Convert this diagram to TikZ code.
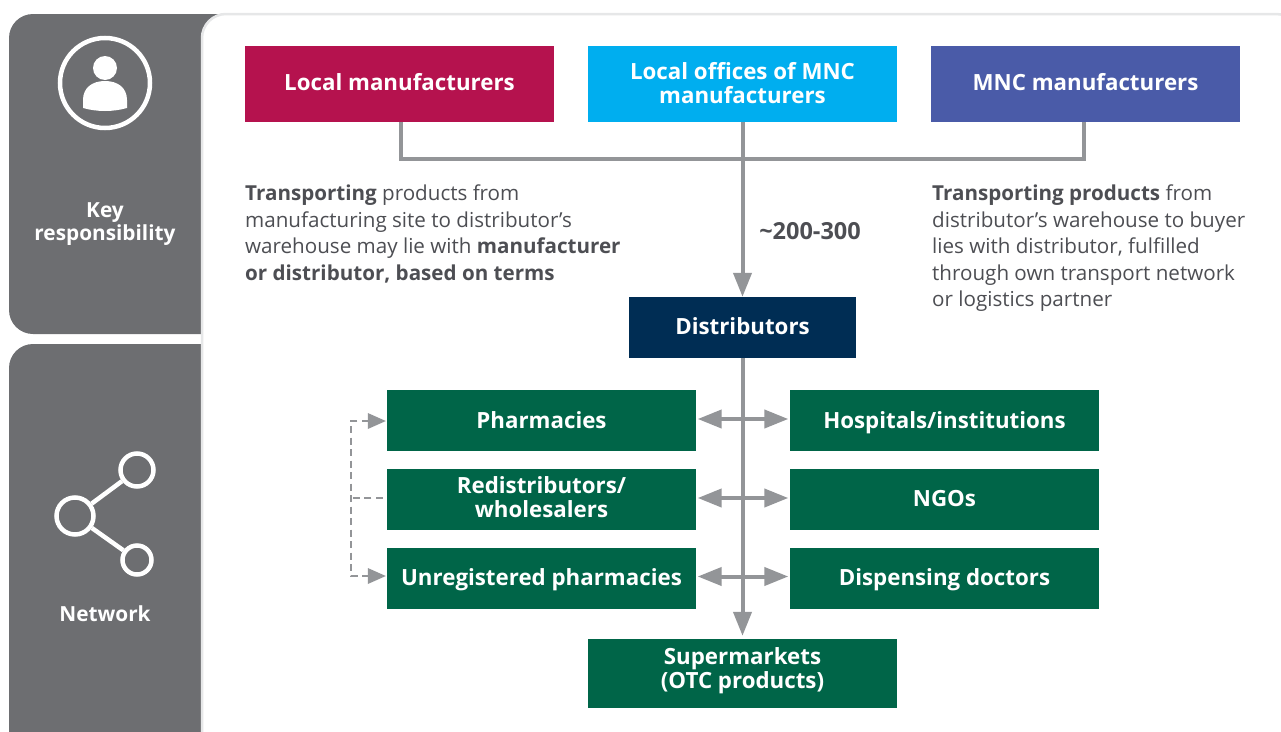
\documentclass[tikz,border=0pt]{standalone}
\usepackage{fontspec}
\setmainfont{Open Sans}
\usepackage{xcolor}
\usetikzlibrary{arrows.meta}

\definecolor{panelgrey}{HTML}{6D6E71}
\definecolor{linegrey}{HTML}{939598}
\definecolor{textgrey}{HTML}{4D4E53}
\definecolor{edgegrey}{HTML}{E6E7E8}
\definecolor{localred}{HTML}{B5124E}
\definecolor{officeblue}{HTML}{00AEEF}
\definecolor{mncblue}{HTML}{4A5BA8}
\definecolor{distnavy}{HTML}{002D54}
\definecolor{buyergreen}{HTML}{006548}

\tikzset{
    topbox/.style={text=white, font=\fontsize{22.3}{24}\selectfont\bfseries, align=center, inner sep=0pt,
        minimum width=309pt, minimum height=76pt},
    buyerbox/.style={topbox, fill=buyergreen, minimum height=61pt},
    oneline/.style={text height=16.5pt, text depth=4.5pt},
    midline/.style={text height=18pt, text depth=4pt},
    lowline/.style={text height=19pt, text depth=4pt},
    sidelabel/.style={text=white, font=\fontsize{20.8}{23.5}\selectfont\bfseries, align=center},
    note/.style={text=textgrey, font=\fontsize{20.6}{26.6}\selectfont, align=left, anchor=north west, inner sep=0pt},
    flowline/.style={draw=linegrey, line width=4pt},
    flowarrow/.style={flowline, -{Triangle[length=24pt,width=18pt]}},
    botharrow/.style={flowline, {Triangle[length=24pt,width=18pt]}-{Triangle[length=24pt,width=18pt]}, shorten <=1.5pt, shorten >=1.5pt},
    dashline/.style={draw=linegrey, line width=2.6pt, dash pattern=on 7pt off 4.5pt},
    icon/.style={draw=white, line width=4.5pt},
}

\begin{document}
\begin{tikzpicture}[x=1pt, y=-1pt]
    \useasboundingbox (0,0) rectangle (1281,731);

    % side panels
    \fill[panelgrey, rounded corners=24pt] (9,14) rectangle (240,334);
    \fill[panelgrey, rounded corners=24pt] (9,344) rectangle (240,760);
    \draw[edgegrey, line width=2.5pt, fill=white, rounded corners=24pt] (202,760) -- (202,14) -- (1300,14) -- (1300,760) -- cycle;

    % icons
    \draw[icon] (105,83) circle (45);
    \fill[white] (105,68) circle (12);
    \fill[white] (83,108) -- (83,100) .. controls (83,88) and (92,81) .. (105,81)
        .. controls (118,81) and (127,88) .. (127,100) -- (127,108)
        .. controls (113,112) and (97,112) .. (83,108) -- cycle;

    \node[circle, icon, inner sep=0pt, minimum size=37pt] (hub) at (75,516) {};
    \node[circle, icon, inner sep=0pt, minimum size=33pt] (leafa) at (137,470) {};
    \node[circle, icon, inner sep=0pt, minimum size=29pt] (leafb) at (137,560) {};
    \draw[icon] (hub) -- (leafa);
    \draw[icon] (hub) -- (leafb);

    \node[sidelabel] (keylabel) at (105,224) {Key\\responsibility};
    \node[sidelabel] (netlabel) at (105,614) {Network};

    % top row
    \node[topbox, oneline, fill=localred] (local) at (399.5,84) {Local manufacturers};
    \node[topbox, text height=32pt, text depth=16pt, fill=officeblue] (offices) at (742.5,84) {\begin{tabular}{@{}c@{}}Local offices of MNC\\manufacturers\end{tabular}};
    \node[topbox, oneline, fill=mncblue] (mnc) at (1085.5,84) {MNC manufacturers};

    % distributors and buyers
    \node[topbox, text height=18pt, text depth=4pt, fill=distnavy, minimum width=227pt, minimum height=61pt] (dist) at (742.5,327.5) {Distributors};

    \node[buyerbox, lowline] (pharm) at (541.5,420.5) {Pharmacies};
    \node[buyerbox, lowline] (hosp) at (944.5,420.5) {Hospitals/institutions};
    \node[buyerbox, text height=30.5pt, text depth=17.5pt] (redist) at (541.5,499.5) {\begin{tabular}{@{}c@{}}Redistributors/\\wholesalers\end{tabular}};
    \node[buyerbox, midline] (ngo) at (944.5,499.5) {NGOs};
    \node[buyerbox, midline] (unreg) at (541.5,578.5) {Unregistered pharmacies};
    \node[buyerbox, midline] (doctors) at (944.5,578.5) {Dispensing doctors};
    \node[buyerbox, text height=27.5pt, text depth=20.5pt, minimum height=69pt] (super) at (742.5,673.5) {\begin{tabular}{@{}c@{}}Supermarkets\\(OTC products)\end{tabular}};

    % notes
    \node[note] (leftnote) at (245,184.5) {\textbf{Transporting} products from\\manufacturing site to distributor’s\\warehouse may lie with \textbf{manufacturer}\\\textbf{or distributor, based on terms}};
    \node[note] (rightnote) at (932,184.5) {\textbf{Transporting products} from\\distributor’s warehouse to buyer\\lies with distributor, fulfilled\\through own transport network\\or logistics partner};
    \node[text=textgrey, font=\fontsize{23.5}{24}\selectfont\bfseries] (count) at (810,231) {\textasciitilde200-300};

    % connectors
    \coordinate (joinleft) at (401,159);
    \coordinate (joinright) at (1084,159);
    \draw[flowline] (local.south -| joinleft) -- (joinleft) -- (joinright) -- (mnc.south -| joinright);
    \draw[flowarrow] (offices) -- (dist);
    \draw[flowarrow] (dist) -- ([yshift=3pt]super.north);

    \draw[botharrow] ([yshift=1.5pt]pharm.east) -- ([yshift=1.5pt]hosp.west);
    \draw[botharrow] ([yshift=1.5pt]redist.east) -- ([yshift=1.5pt]ngo.west);
    \draw[botharrow] ([yshift=2pt]unreg.east) -- ([yshift=2pt]doctors.west);

    \coordinate (dashtop) at (351,421);
    \coordinate (dashbottom) at (351,576);
    \draw[dashline] ([xshift=-18pt]pharm.west |- dashtop) -- (dashtop) -- (dashbottom) -- ([xshift=-18pt]unreg.west |- dashbottom);
    \draw[dashline] ([xshift=-4pt,yshift=1.5pt]redist.west) -- ([yshift=1.5pt]redist.west -| dashtop);
    \fill[linegrey] (pharm.west |- dashtop) ++(-1,0) -- ++(-18,-8) -- ++(0,16) -- cycle;
    \fill[linegrey] (unreg.west |- dashbottom) ++(-1,0) -- ++(-18,-8) -- ++(0,16) -- cycle;
\end{tikzpicture}
\end{document}
